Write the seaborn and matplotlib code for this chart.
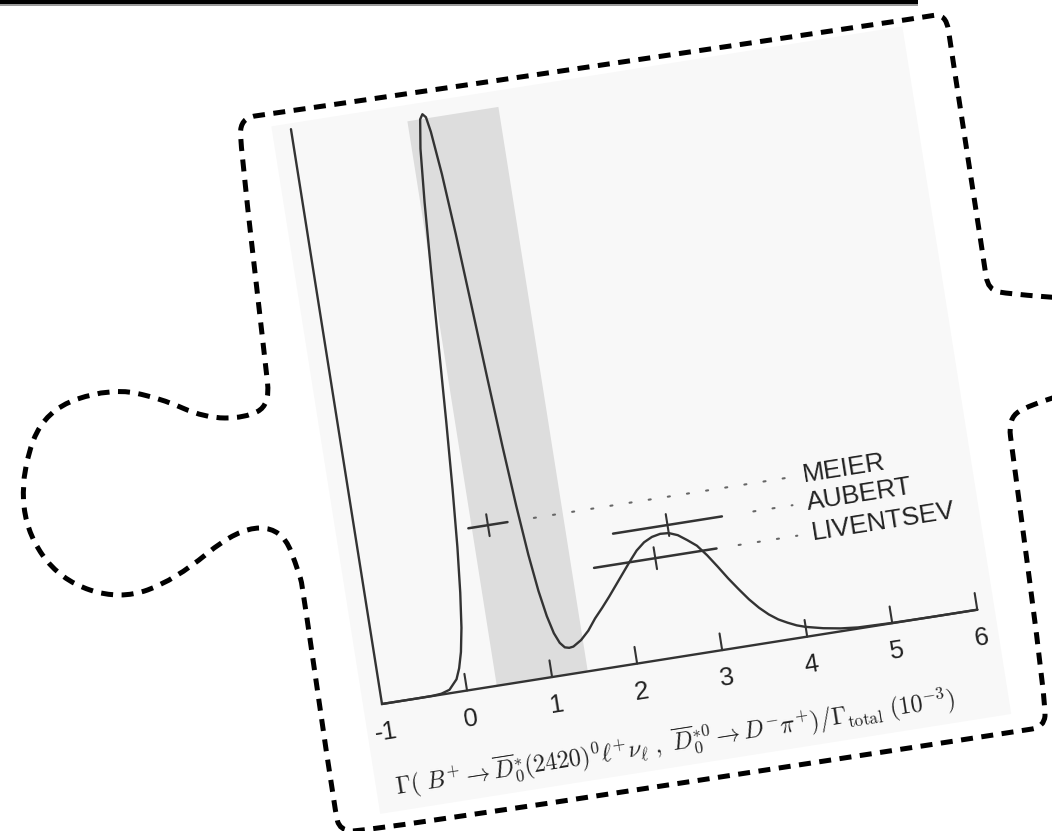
import numpy as np
import matplotlib
matplotlib.use("Agg")
import matplotlib.pyplot as plt
from matplotlib.patches import Rectangle, PathPatch
from matplotlib.path import Path
from matplotlib.transforms import Affine2D
import seaborn as sns

# ideogram curve (x in 10^-3, y relative to axis height)
curve_x = [-1.0, -0.6, -0.4, -0.3, -0.2, -0.1, -0.05, 0.0, 0.05, 0.1, 0.15, 0.2, 0.25,
           0.3, 0.35, 0.4, 0.45, 0.5, 0.535, 0.57, 0.6, 0.65, 0.7, 0.75, 0.8, 0.85,
           0.9, 0.95, 1.0, 1.05, 1.1, 1.15, 1.2, 1.25, 1.3, 1.4, 1.5, 1.6, 1.7, 1.8,
           1.9, 2.0, 2.1, 2.2, 2.3, 2.4, 2.5, 2.6, 2.7, 2.8, 2.9, 3.0, 3.1, 3.2, 3.3,
           3.4, 3.5, 3.6, 3.7, 3.8, 3.9, 4.0, 4.2, 4.4, 4.6, 5.0, 5.5, 6.0]
curve_y = [0.0, 0.0, 0.0003, 0.0015, 0.006, 0.022, 0.04, 0.067, 0.108, 0.168, 0.246, 0.346,
           0.462, 0.592, 0.722, 0.840, 0.932, 0.982, 0.990, 0.984, 0.958, 0.883, 0.778,
           0.653, 0.525, 0.405, 0.300, 0.214, 0.150, 0.105, 0.074, 0.056, 0.047, 0.045,
           0.046, 0.055, 0.069, 0.088, 0.104, 0.121, 0.139, 0.157, 0.175, 0.192, 0.204,
           0.211, 0.214, 0.213, 0.207, 0.196, 0.184, 0.165, 0.143, 0.120, 0.099, 0.079,
           0.062, 0.048, 0.037, 0.029, 0.022, 0.017, 0.010, 0.005, 0.002, 0.0005, 0.0, 0.0]

# measurements
experiments = ["MEIER", "AUBERT", "LIVENTSEV"]
values = [0.54, 2.60, 2.40]
errors = [0.23, 0.64, 0.72]
row_y = [0.275, 0.227, 0.174]
leader_start = [1.08, 3.61, 3.38]
leader_end = 4.07

# shaded average band
band_lo, band_hi = 0.35, 1.42

xtick_pos = [0, 1, 2, 3, 4, 5, 6]
xtick_labels = ["-1", "0", "1", "2", "3", "4", "5", "6"]
xtick_label_pos = [-1, 0, 1, 2, 3, 4, 5, 6]

xlabel = (r"$\Gamma(\ B^{+} \rightarrow \overline{D}^{*}_{0}(2420)^{0}\ell^{+}\nu_{\ell}\ ,\ "
          r"\overline{D}^{*0}_{0} \rightarrow D^{-}\pi^{+})/\Gamma_{\mathrm{total}}\ (10^{-3})$")

sns.set_style("white")
plt.rcParams['font.family'] = ['Liberation Sans', 'DejaVu Sans']
plt.rcParams['mathtext.fontset'] = 'cm'

W, H = 1052, 831
fig = plt.figure(figsize=(W / 100, H / 100), dpi=100)
ax = fig.add_axes([0, 0, 1, 1])

# chart frame: data -> rotated page pixels
PX_X, PX_Y, ANGLE = 86.1, 582, 9
T = Affine2D().translate(1, 0).scale(PX_X, -PX_Y).rotate_deg(-ANGLE).translate(382, 704) + ax.transData

ink = '#333333'

# light page behind the chart
ax.add_patch(Rectangle((-1.22, -0.186), 7.42, 1.196, transform=T, fc='#f8f8f8', ec='none', zorder=0))
ax.add_patch(Rectangle((band_lo, 0), band_hi - band_lo, 0.982, transform=T, fc='#dddddd', ec='none', zorder=1))

sns.lineplot(x=curve_x, y=curve_y, ax=ax, transform=T, color=ink, lw=1.7,
             sort=False, estimator=None, zorder=3)
ax.set_xlim(0, W)
ax.set_ylim(H, 0)
ax.axis('off')

# axes lines
ax.plot([-1, -1, 6], [1, 0, 0], transform=T, color=ink, lw=1.7, zorder=4, solid_joinstyle='miter')
for xt in xtick_pos:
    ax.plot([xt, xt], [0, 0.029], transform=T, color=ink, lw=1.5, zorder=4)
for xl, lab in zip(xtick_label_pos, xtick_labels):
    ax.text(xl, -0.049, lab, transform=T, rotation=ANGLE, rotation_mode='anchor',
            ha='center', va='center', fontsize=18.5, color='#222222')

# measurements with leaders and names
for name, v, e, yy, ls in zip(experiments, values, errors, row_y, leader_start):
    ax.plot([v - e, v + e], [yy, yy], transform=T, color=ink, lw=1.8, zorder=4)
    ax.plot([v, v], [yy - 0.019, yy + 0.019], transform=T, color=ink, lw=1.5, zorder=4)
    ax.plot([ls, leader_end], [yy, yy], transform=T, color='#666666', lw=1.5,
            linestyle=(0, (1, 8.3)), dash_capstyle='round', zorder=4)
    ax.text(4.24, yy, name, transform=T, rotation=ANGLE, rotation_mode='anchor',
            ha='left', va='center', fontsize=19, color='#222222')

ax.text(-1.0, -0.16, xlabel, transform=T, rotation=ANGLE, rotation_mode='anchor',
        ha='left', va='baseline', fontsize=17.3, color='#222222')

# black bar at top of the page
ax.add_patch(Rectangle((0, 0), 918, 4, fc='black', ec='none', zorder=5))
ax.add_patch(Rectangle((0, 4), 918, 2, fc='#9a9a9a', ec='none', zorder=5))

# puzzle piece outline (control polygon, smoothed with quadratic curves)
outline = [(1075, 299), (1010, 294), (988, 290), (984, 262), (951, 48), (946, 13), (920, 18),
           (270, 114), (240, 118), (241, 150), (265, 360), (270, 405), (245, 418),
           (205, 418), (160, 398), (110, 388), (45, 410), (22, 470), (25, 530), (60, 580),
           (120, 600), (175, 580), (238, 528), (282, 528), (300, 575), (303, 590),
           (335, 812), (340, 830), (362, 832), (1020, 731), (1044, 727), (1046, 705),
           (1013, 455), (1008, 418), (1030, 405), (1075, 391)]
pts = np.array(outline, dtype=float)
verts = [pts[0], (pts[0] + pts[1]) / 2]
codes = [Path.MOVETO, Path.LINETO]
for i in range(1, len(pts) - 1):
    verts.append(pts[i])
    verts.append((pts[i] + pts[i + 1]) / 2)
    codes += [Path.CURVE3, Path.CURVE3]
verts.append(pts[-1])
codes.append(Path.LINETO)
ax.add_patch(PathPatch(Path(verts, codes), fill=False, ec='black', lw=3.6,
                       linestyle=(0, (2.4, 1.7)), capstyle='butt', zorder=6))

fig.savefig('out.png', dpi=100)
